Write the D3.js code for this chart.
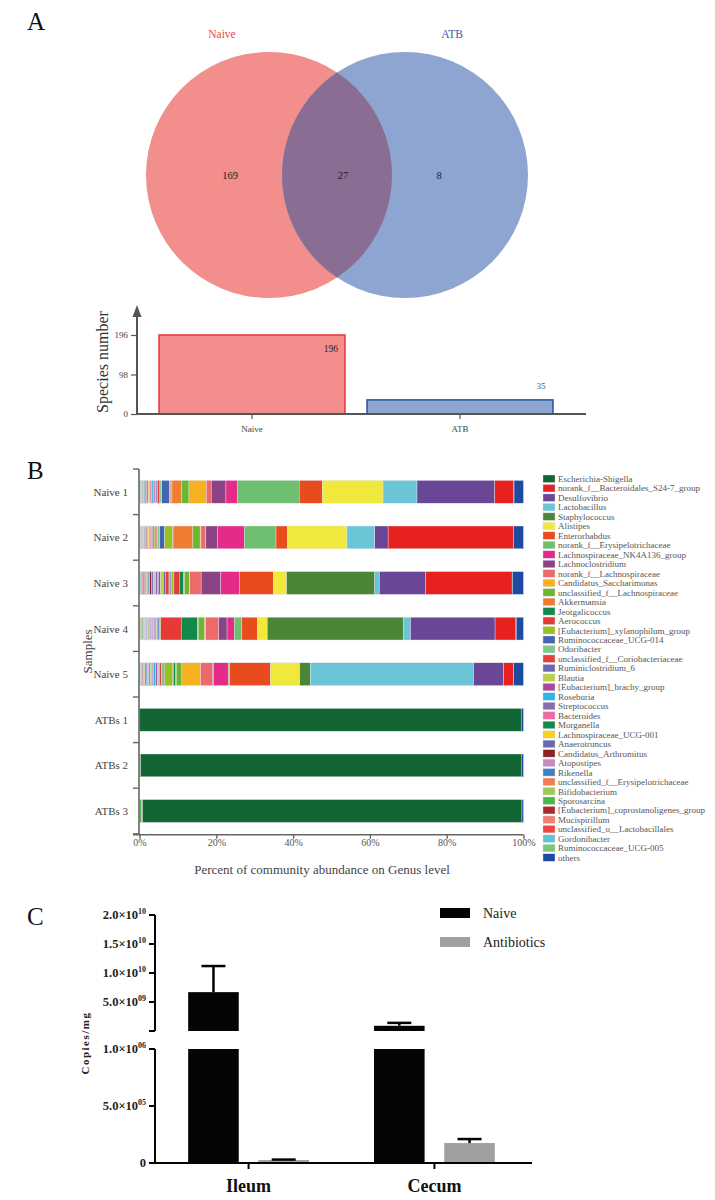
<!DOCTYPE html>
<html>
<head>
<meta charset="utf-8">
<script src="https://cdn.jsdelivr.net/npm/d3@7.9.0/dist/d3.min.js"></script>
<style>
  body { margin: 0; background: #fff; }
  svg { display: block; }
  text { font-family: "Liberation Serif", "Times New Roman", serif; }
</style>
</head>
<body>
<svg id="fig" width="715" height="1200"></svg>
<script>
// ---- panel A data
const vennSets = ['Naive', 'ATB'];
const vennCounts = [169, 27, 8]; // naive only, shared, ATB only
const speciesTotals = [196, 35];
const speciesTicks = [0, 98, 196];

// ---- panel B data
const samples = ['Naive 1', 'Naive 2', 'Naive 3', 'Naive 4', 'Naive 5', 'ATBs 1', 'ATBs 2', 'ATBs 3'];
const genera = [
  'Escherichia-Shigella', 'norank_f__Bacteroidales_S24-7_group', 'Desulfovibrio', 'Lactobacillus',
  'Staphylococcus', 'Alistipes', 'Enterorhabdus', 'norank_f__Erysipelotrichaceae',
  'Lachnospiraceae_NK4A136_group', 'Lachnoclostridium', 'norank_f__Lachnospiraceae',
  'Candidatus_Saccharimonas', 'unclassified_f__Lachnospiraceae', 'Akkermansia', 'Jeotgalicoccus',
  'Aerococcus', '[Eubacterium]_xylanophilum_group', 'Ruminococcaceae_UCG-014', 'Odoribacter',
  'unclassified_f__Coriobacteriaceae', 'Ruminiclostridium_6', 'Blautia', '[Eubacterium]_brachy_group',
  'Roseburia', 'Streptococcus', 'Bacteroides', 'Morganella', 'Lachnospiraceae_UCG-001',
  'Anaerotruncus', 'Candidatus_Arthromitus', 'Atopostipes', 'Rikenella',
  'unclassified_f__Erysipelotrichaceae', 'Bifidobacterium', 'Sporosarcina',
  '[Eubacterium]_coprostanoligenes_group', 'Mucispirillum', 'unclassified_o__Lactobacillales',
  'Gordonibacter', 'Ruminococcaceae_UCG-005', 'others'
];
const genusColors = [
  '#116633', '#e7211d', '#6a4697', '#6ac5d6', '#4a8637', '#f0e83c', '#e84c1e', '#6fbf70',
  '#e62a87', '#8a4486', '#ec6a6a', '#f5b120', '#6ab82f', '#ef7d31', '#12884a', '#e53a35',
  '#97c11f', '#4464b0', '#7fc98b', '#e5403a', '#6c67ae', '#b9d04a', '#a8489a', '#2fb4e8',
  '#8a6bb0', '#ee6aa4', '#138a4a', '#f6d11f', '#6a66b0', '#8b2123', '#c58ac0', '#3b82c4',
  '#f07e4f', '#a0c85a', '#4cb849', '#b0272a', '#f07f73', '#ef4444', '#5ec5cc', '#7dc67b', '#1d4ba0'
];
// percent per genus, columns follow `samples`
const abundance = [
  [0.2, 0.1, 0.1, 0.1, 0.1, 99.2, 99.1, 98.8],
  [4.9, 32.8, 22.9, 5.5, 2.6, 0, 0, 0],
  [20.6, 3.5, 12.2, 22.3, 8.0, 0, 0, 0],
  [9.0, 7.3, 1.2, 1.9, 43.5, 0, 0, 0],
  [0, 0, 23.3, 35.9, 2.8, 0, 0, 0],
  [16.1, 15.6, 3.5, 2.6, 7.8, 0, 0, 0],
  [6.1, 3.0, 9.0, 4.1, 10.9, 0, 0, 0],
  [16.4, 8.3, 0, 2.0, 0.3, 0, 0, 0],
  [3.0, 7.1, 4.9, 1.9, 3.9, 0, 0, 0],
  [3.9, 3.0, 5.2, 2.2, 0.3, 0, 0, 0],
  [1.3, 1.3, 3.0, 3.5, 3.2, 0, 0, 0],
  [4.6, 0.2, 0.1, 0.2, 5.0, 0, 0, 0],
  [1.9, 1.9, 1.3, 1.7, 1.5, 0, 0, 0],
  [2.6, 5.2, 0.3, 0.2, 0.2, 0, 0, 0],
  [0.2, 0.1, 1.1, 4.3, 0.5, 0, 0, 0],
  [0.2, 0.1, 1.4, 5.4, 0.2, 0, 0, 0],
  [0.3, 2.0, 0.6, 0.4, 2.2, 0, 0, 0],
  [2.0, 1.3, 0.4, 0.3, 0.4, 0, 0, 0],
  [0.5, 0.6, 0.3, 0.4, 0.5, 0, 0, 0],
  [0.6, 0.3, 1.0, 0.3, 0.4, 0, 0, 0],
  [0.4, 0.3, 0.5, 0.3, 0.3, 0, 0, 0],
  [0.3, 0.3, 0.8, 0.3, 0.4, 0, 0, 0],
  [0.3, 0.4, 0.5, 0.2, 0.4, 0, 0, 0],
  [0.5, 0.2, 0.3, 0.2, 0.6, 0, 0, 0],
  [0.2, 0.2, 0.4, 0.3, 0.3, 0, 0, 0],
  [0.3, 0.4, 0.3, 0.2, 0.2, 0, 0, 0.3],
  [0.1, 0.1, 0.2, 0.3, 0.2, 0, 0, 0],
  [0.4, 0.3, 0.2, 0.4, 0.2, 0, 0, 0],
  [0.3, 0.2, 0.4, 0.2, 0.3, 0, 0, 0],
  [0.1, 0.2, 0.5, 0.1, 0.1, 0, 0, 0],
  [0.2, 0.3, 0.2, 0.1, 0.3, 0, 0, 0],
  [0.4, 0.2, 0.4, 0.2, 0.3, 0, 0, 0],
  [0.2, 0.2, 0.2, 0.1, 0.4, 0, 0, 0],
  [0.1, 0.2, 0.2, 0.3, 0.2, 0, 0, 0],
  [0.1, 0.1, 0.3, 0.3, 0.2, 0, 0.3, 0.5],
  [0.2, 0.2, 0.4, 0.1, 0.2, 0, 0, 0],
  [0.1, 0.2, 0.3, 0.1, 0.2, 0, 0, 0],
  [0.1, 0.1, 0.2, 0.2, 0.2, 0, 0, 0],
  [0.3, 0.1, 0.3, 0.1, 0.2, 0, 0, 0],
  [0.2, 0.2, 0.2, 0.2, 0.2, 0, 0, 0],
  [2.5, 2.6, 2.9, 1.9, 2.6, 0.6, 0.6, 0.4]
];
const pctTicks = [0, 0.2, 0.4, 0.6, 0.8, 1];

// ---- panel C data
const sites = ['Ileum', 'Cecum'];
const groups = ['Naive', 'Antibiotics'];
const groupColors = ['#050303', '#a0a0a2'];
const copiesMean = [[6.7e9, 2.6e4], [9.0e8, 1.75e5]];
const copiesErr = [[4.5e9, 0.4e4], [5.0e8, 0.35e5]];
const upperTicks = [5e9, 1e10, 1.5e10, 2e10];
const upperLabels = [['5.0×10', '09'], ['1.0×10', '10'], ['1.5×10', '10'], ['2.0×10', '10']];
const lowerTicks = [0, 5e5, 1e6];
const lowerLabels = [['0', ''], ['5.0×10', '05'], ['1.0×10', '06']];

const svg = d3.select('#fig');
const defs = svg.append('defs');

// ================= A : venn =================
svg.append('text').attr('x', 27).attr('y', 30).attr('font-size', 25).attr('fill', '#111').text('A');

const vennR = 123, vennCy = 175;
const vennCx = d3.scalePoint().domain(vennSets).range([269, 405]);
const vennFill = ['#f28e8b', '#8da5d0'];
const vennText = ['#e8474a', '#3b5ca8'];

defs.append('clipPath').attr('id', 'clipNaive')
  .append('circle').attr('cx', vennCx('Naive')).attr('cy', vennCy).attr('r', vennR);

vennSets.forEach((s, i) => {
  svg.append('circle').attr('cx', vennCx(s)).attr('cy', vennCy).attr('r', vennR).attr('fill', vennFill[i]);
  svg.append('text')
    .attr('x', vennCx(s) + (i === 0 ? -47 : 47)).attr('y', 38)
    .attr('text-anchor', 'middle').attr('font-size', 11.5).attr('fill', vennText[i])
    .text(s);
});
svg.append('circle').attr('cx', vennCx('ATB')).attr('cy', vennCy).attr('r', vennR)
  .attr('clip-path', 'url(#clipNaive)').attr('fill', '#896d93');

const countX = [vennCx('Naive') - 39, (vennCx('Naive') + vennCx('ATB')) / 2 + 6, vennCx('ATB') + 34];
vennCounts.forEach((c, i) => {
  svg.append('text').attr('x', countX[i]).attr('y', vennCy + 4)
    .attr('text-anchor', 'middle').attr('font-size', 10.5).attr('fill', '#222').text(c);
});

// species number bars
const spX = d3.scaleBand().domain(vennSets).range([148, 564]).paddingInner(0.106).paddingOuter(0.053);
const spY = d3.scaleLinear().domain([0, 196]).range([414, 335]);
const spStroke = ['#e8343a', '#2850a0'];

vennSets.forEach((s, i) => {
  svg.append('rect')
    .attr('x', spX(s)).attr('y', spY(speciesTotals[i]))
    .attr('width', spX.bandwidth()).attr('height', spY(0) - spY(speciesTotals[i]))
    .attr('fill', vennFill[i]).attr('stroke', spStroke[i]).attr('stroke-width', 1.5);
});

const spAxis = svg.append('g').attr('transform', 'translate(137,0)')
  .call(d3.axisLeft(spY).tickValues(speciesTicks).tickSize(6));
spAxis.select('.domain').remove();
spAxis.selectAll('line').attr('stroke', '#555').attr('stroke-width', 1.2);
spAxis.selectAll('text').attr('font-family', '"Liberation Serif", serif').attr('font-size', 9).attr('fill', '#444');

svg.append('line').attr('x1', 137).attr('x2', 137).attr('y1', spY(0)).attr('y2', 312)
  .attr('stroke', '#555').attr('stroke-width', 2);
svg.append('path').attr('d', 'M137,305 L132.5,317 L141.5,317 Z').attr('fill', '#555');
svg.append('line').attr('x1', 136).attr('x2', 586).attr('y1', spY(0)).attr('y2', spY(0))
  .attr('stroke', '#555').attr('stroke-width', 2);

vennSets.forEach((s) => {
  const cx = spX(s) + spX.bandwidth() / 2;
  svg.append('line').attr('x1', cx).attr('x2', cx).attr('y1', spY(0)).attr('y2', spY(0) + 5)
    .attr('stroke', '#555').attr('stroke-width', 1.2);
  svg.append('text').attr('x', cx).attr('y', spY(0) + 18).attr('text-anchor', 'middle')
    .attr('font-size', 9).attr('fill', '#444').text(s);
});

svg.append('text').attr('x', spX('Naive') + spX.bandwidth() - 14).attr('y', spY(196) + 17)
  .attr('text-anchor', 'middle').attr('font-size', 9.5).attr('fill', '#222').text(speciesTotals[0]);
svg.append('text').attr('x', spX('ATB') + spX.bandwidth() - 12).attr('y', spY(35) - 11)
  .attr('text-anchor', 'middle').attr('font-size', 9).attr('fill', '#3b5ca8').text(speciesTotals[1]);

svg.append('text').attr('transform', 'translate(108,362) rotate(-90)')
  .attr('text-anchor', 'middle').attr('font-size', 16).attr('fill', '#333').text('Species number');

// ================= B : community barplot =================
svg.append('text').attr('x', 27).attr('y', 479).attr('font-size', 25).attr('fill', '#111').text('B');

const bx = d3.scaleLinear().domain([0, 1]).range([139.5, 523.5]);
const by = d3.scaleBand().domain(samples).range([469, 833.8]).paddingInner(0.5).paddingOuter(0.25);

const rows = samples.map((s, j) => {
  const r = { sample: s };
  genera.forEach((g, k) => { r[g] = abundance[k][j]; });
  return r;
});
// left to right: rare genera first, dominant ones next to "others"
const stackKeys = genera.slice(0, 40).reverse().concat(['others']);
const color = d3.scaleOrdinal().domain(genera).range(genusColors);
const series = d3.stack().keys(stackKeys).offset(d3.stackOffsetExpand)(rows);

svg.append('g').selectAll('g').data(series).join('g')
  .attr('fill', (d) => color(d.key))
  .selectAll('rect').data((d) => d).join('rect')
  .attr('x', (d) => bx(d[0]))
  .attr('y', (d) => by(d.data.sample))
  .attr('width', (d) => Math.max(0, bx(d[1]) - bx(d[0])))
  .attr('height', by.bandwidth())
  .attr('stroke', '#e6e6ee').attr('stroke-width', 0.4);

// y axis
svg.append('line').attr('x1', 139).attr('x2', 139).attr('y1', by.range()[0]).attr('y2', by.range()[1] + 1)
  .attr('stroke', '#666').attr('stroke-width', 1.6);
d3.range(samples.length + 1).forEach((k) => {
  const yy = by.range()[0] + k * by.step();
  svg.append('line').attr('x1', 133).attr('x2', 139).attr('y1', yy).attr('y2', yy)
    .attr('stroke', '#666').attr('stroke-width', 1.4);
});
samples.forEach((s) => {
  svg.append('text').attr('x', 128).attr('y', by(s) + by.bandwidth() / 2 + 4)
    .attr('text-anchor', 'end').attr('font-size', 11).attr('fill', '#444').text(s);
});
svg.append('text').attr('transform', `translate(92,${(by.range()[0] + by.range()[1]) / 2}) rotate(-90)`)
  .attr('text-anchor', 'middle').attr('font-size', 13).attr('fill', '#444').text('Samples');

// x axis
const bxAxis = svg.append('g').attr('transform', `translate(0,${by.range()[1] + 1})`)
  .call(d3.axisBottom(bx).tickValues(pctTicks).tickFormat(d3.format('.0%')).tickSize(4).tickSizeOuter(0));
bxAxis.select('.domain').attr('stroke', '#666').attr('stroke-width', 1.6).attr('d', `M133,0H${bx(1)}`);
bxAxis.selectAll('line').attr('stroke', '#666').attr('stroke-width', 1.4);
bxAxis.selectAll('text').attr('font-family', '"Liberation Serif", serif').attr('font-size', 10).attr('fill', '#555').attr('dy', '0.45em');
svg.append('text').attr('x', 322).attr('y', 874).attr('text-anchor', 'middle')
  .attr('font-size', 13).attr('fill', '#444').text('Percent of community abundance on Genus level');

// legend
const leg = svg.append('g').attr('transform', 'translate(543,475)');
genera.forEach((g, k) => {
  const item = leg.append('g').attr('transform', `translate(0,${k * 9.47})`);
  item.append('rect').attr('width', 12).attr('height', 7.5).attr('fill', color(g))
    .attr('stroke', '#dde').attr('stroke-width', 0.4);
  item.append('text').attr('x', 15).attr('y', 7).attr('font-size', 9).attr('fill', '#555').text(g);
});

// ================= C : qPCR copies =================
svg.append('text').attr('x', 27).attr('y', 925).attr('font-size', 25).attr('fill', '#111').text('C');

const cx0 = d3.scaleBand().domain(sites).range([151, 532]).paddingInner(0.35).paddingOuter(0.2);
const cx1 = d3.scaleBand().domain(groups).range([0, cx0.bandwidth()]).paddingInner(0.28);
const yTop = d3.scaleLinear().domain([0, 2e10]).range([1031, 915]);
const yBot = d3.scaleLinear().domain([0, 1e6]).range([1163, 1049]).clamp(true);
const axisX = 155;

sites.forEach((site, i) => {
  groups.forEach((grp, j) => {
    const v = copiesMean[i][j], e = copiesErr[i][j];
    const x = cx0(site) + cx1(grp), w = cx1.bandwidth(), mid = x + w / 2;
    svg.append('rect').attr('x', x).attr('width', w)
      .attr('y', yBot(v)).attr('height', yBot(0) - yBot(v)).attr('fill', groupColors[j]);
    let yv = yBot(v), ye = yBot(v + e);
    if (v > 1e6) {
      svg.append('rect').attr('x', x).attr('width', w)
        .attr('y', yTop(v)).attr('height', yTop(0) - yTop(v)).attr('fill', groupColors[j]);
      yv = yTop(v); ye = yTop(v + e);
    }
    svg.append('line').attr('x1', mid).attr('x2', mid).attr('y1', yv).attr('y2', ye)
      .attr('stroke', '#050303').attr('stroke-width', 2.5);
    svg.append('line').attr('x1', mid - 12).attr('x2', mid + 12).attr('y1', ye).attr('y2', ye)
      .attr('stroke', '#050303').attr('stroke-width', 2.5);
  });
});

function segAxis(scale, ticks, labels) {
  const [y0, y1] = scale.range();
  svg.append('line').attr('x1', axisX).attr('x2', axisX).attr('y1', y0).attr('y2', y1)
    .attr('stroke', '#050303').attr('stroke-width', 2);
  ticks.concat([scale.domain()[0]]).forEach((t) => {
    svg.append('line').attr('x1', axisX - 6).attr('x2', axisX).attr('y1', scale(t)).attr('y2', scale(t))
      .attr('stroke', '#050303').attr('stroke-width', 2);
  });
  ticks.forEach((t, k) => {
    const tx = svg.append('text').attr('x', axisX - 9).attr('y', scale(t) + 4)
      .attr('text-anchor', 'end').attr('font-size', 12.5).attr('font-weight', 'bold').attr('fill', '#222');
    tx.append('tspan').text(labels[k][0]);
    if (labels[k][1]) {
      tx.append('tspan').attr('dy', -5).attr('font-size', 8).text(labels[k][1]);
    }
  });
}
segAxis(yTop, upperTicks, upperLabels);
segAxis(yBot, lowerTicks, lowerLabels);

svg.append('line').attr('x1', axisX - 1).attr('x2', 532).attr('y1', yBot(0)).attr('y2', yBot(0))
  .attr('stroke', '#050303').attr('stroke-width', 2);
sites.forEach((site) => {
  const mid = cx0(site) + cx0.bandwidth() / 2;
  svg.append('line').attr('x1', mid).attr('x2', mid).attr('y1', yBot(0)).attr('y2', yBot(0) + 6)
    .attr('stroke', '#050303').attr('stroke-width', 2);
  svg.append('text').attr('x', mid).attr('y', 1192).attr('text-anchor', 'middle')
    .attr('font-size', 18).attr('font-weight', 'bold').attr('fill', '#111').text(site);
});

svg.append('text').attr('transform', 'translate(89,1043) rotate(-90)')
  .attr('text-anchor', 'middle').attr('font-size', 11).attr('font-weight', 'bold')
  .attr('letter-spacing', 1.5).attr('fill', '#222').text('Copies/mg');

groups.forEach((grp, j) => {
  svg.append('rect').attr('x', 440).attr('y', 908 + j * 29).attr('width', 30).attr('height', 10)
    .attr('fill', groupColors[j]);
  svg.append('text').attr('x', 483).attr('y', 918 + j * 29).attr('font-size', 14)
    .attr('fill', '#222').text(grp);
});
</script>
</body>
</html>
